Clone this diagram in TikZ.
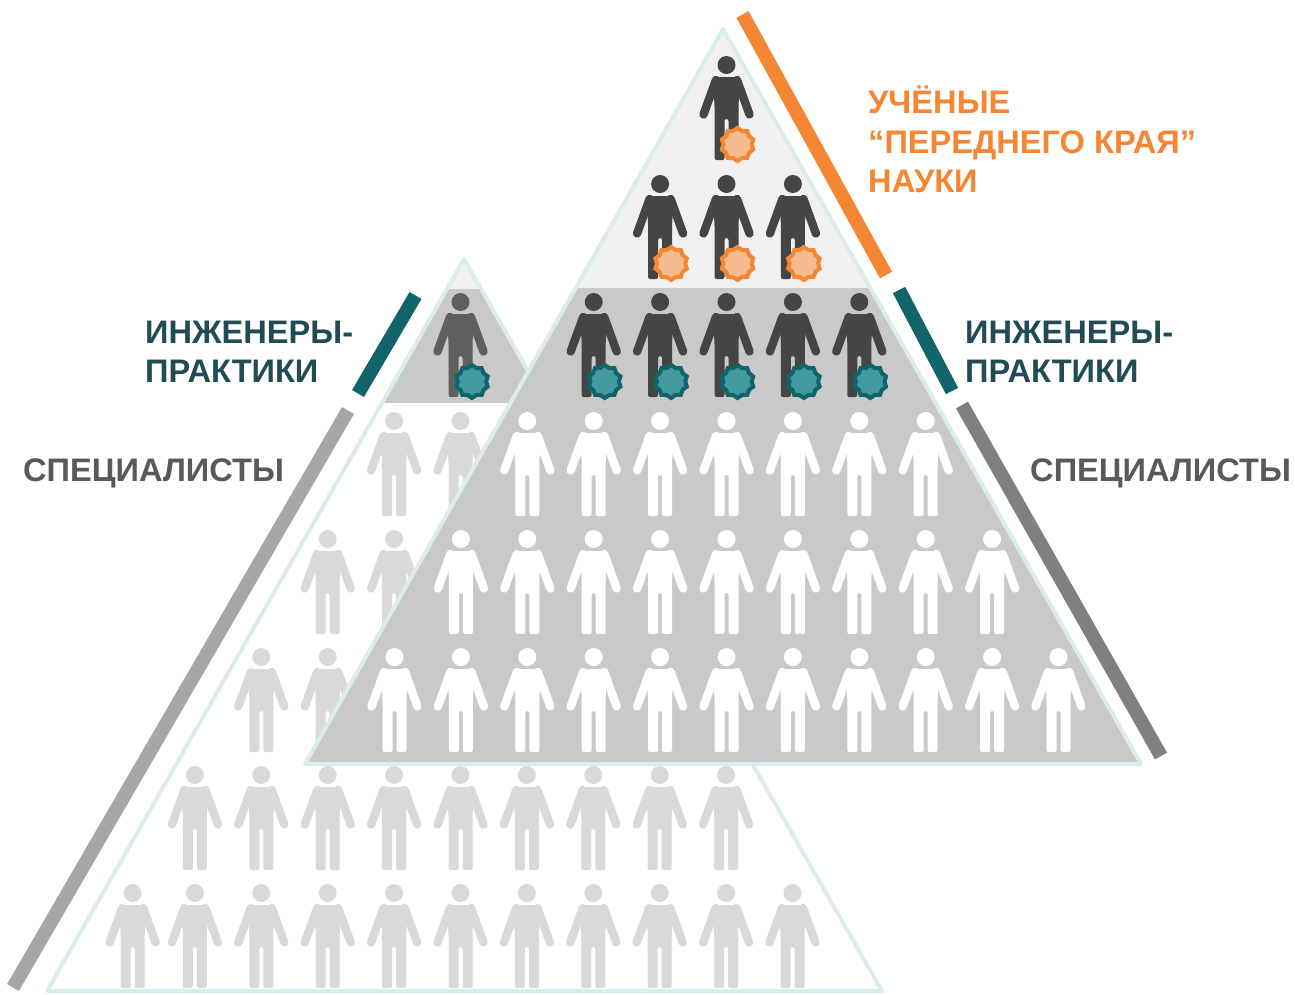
\documentclass[tikz,border=0pt]{standalone}
\usepackage{fontspec}
\setmainfont{Liberation Sans}
\usetikzlibrary{shapes.geometric}
\definecolor{figdark}{HTML}{454545}
\definecolor{figmid}{HTML}{5F5F5F}
\definecolor{figlight}{HTML}{D9D9D9}
\definecolor{tierlight}{HTML}{F0F0F0}
\definecolor{tiergray}{HTML}{C9C9C9}
\definecolor{rim}{HTML}{D9EDEE}
\definecolor{orangeline}{HTML}{F58634}
\definecolor{orangefill}{HTML}{F6BC8F}
\definecolor{tealline}{HTML}{11646A}
\definecolor{tealfill}{HTML}{439A9F}
\definecolor{tealtext}{HTML}{214C55}
\definecolor{graytext}{HTML}{595959}
\tikzset{
  pics/person/.style={code={
    \fill[#1] (0,0) circle[radius=9];
    \fill[#1,rounded corners=2] (-14,12) -- (14,12) -- (12,40) -- (12,95) -- (2,95) -- (2,54) -- (-2,54) -- (-2,95) -- (-12,95) -- (-12,40) -- cycle;
    \draw[#1,line width=8.4,line cap=round] (-10.5,15) -- (-23,49.5);
    \draw[#1,line width=8.4,line cap=round] (10.5,15) -- (23,49.5);
  }},
  badgeorange/.style={star,star points=10,star point ratio=1.16,minimum size=33,inner sep=0,line width=4,draw=orangeline,fill=orangefill},
  badgeteal/.style={star,star points=10,star point ratio=1.16,minimum size=33,inner sep=0,line width=4,draw=tealline,fill=tealfill},
  edgebar/.style={line width=13.8},
  caption/.style={anchor=west,align=left,inner sep=0,font=\bfseries\fontsize{32.6}{39.3}\selectfont},
}
\begin{document}
\begin{tikzpicture}[x=1pt,y=-1pt]
\useasboundingbox (0,0) rectangle (1295,994);
\coordinate (backtop) at (464,259);
\coordinate (backleft) at (47,991);
\coordinate (backright) at (882,991);
\coordinate (fronttop) at (723,29);
\coordinate (frontleft) at (305,764);
\coordinate (frontright) at (1141,764);
% back pyramid
\begin{scope}
\clip (backtop) -- (backleft) -- (backright) -- cycle;
\fill[tierlight] (0,250) rectangle (1295,289);
\fill[tiergray] (0,289) rectangle (1295,403);
\end{scope}
\draw[rim,line width=4,line join=round] (backtop) -- (backleft) -- (backright) -- cycle;
\pic at (460.5,302) {person=figmid};
\node[badgeteal] (backbadge) at (472,381.5) {};
\foreach \y/\m/\k in {421/-1/1,539/-2/2,657/-3/3,775/-4/4,893/-4/5}
  \foreach \n in {\m,...,\k}
    \pic at ({460.5+\n*66.4},\y) {person=figlight};
\pic at (132.7,893) {person=figlight};
% front pyramid
\begin{scope}
\clip (fronttop) -- (frontleft) -- (frontright) -- cycle;
\fill[tierlight] (0,0) rectangle (1295,288);
\fill[tiergray] (0,288) rectangle (1295,770);
\end{scope}
\draw[rim,line width=4,line join=round] (fronttop) -- (frontleft) -- (frontright) -- cycle;
\foreach \y/\m in {65/0,184/1}
  \foreach \n in {-\m,...,\m} {
    \pic at ({726.5+\n*66.4},\y) {person=figdark};
    \node[badgeorange] (orange\n) at ({737.5+\n*66.4},\y+79.5) {};
  }
\foreach \n in {-2,...,2} {
  \pic at ({726.5+\n*66.4},302) {person=figdark};
  \node[badgeteal] (teal\n) at ({737.5+\n*66.4},381.5) {};
}
\foreach \y/\m in {421/3,539/4,657/5}
  \foreach \n in {-\m,...,\m}
    \pic at ({726.5+\n*66.4},\y) {person=white};
% edge bars
\draw[edgebar,orangeline] (742.5,14.5) -- (886,275);
\draw[edgebar,tealline] (899,290) -- (952,391);
\draw[edgebar,color=black!50] (962,405) -- (1161,756);
\draw[edgebar,tealline] (415.5,295.5) -- (358,393.5);
\draw[edgebar,color=black!35] (348,410.5) -- (13,987.5);
% captions
\node[caption,text=orangeline] (topcaption) at (868,139.5) {УЧЁНЫЕ\\“ПЕРЕДНЕГО КРАЯ”\\НАУКИ};
\node[caption,text=tealtext] (rightpractice) at (965,351.5) {ИНЖЕНЕРЫ-\\ПРАКТИКИ};
\node[caption,text=tealtext] (leftpractice) at (145,351.5) {ИНЖЕНЕРЫ-\\ПРАКТИКИ};
\node[caption,text=graytext] (rightspec) at (1030,473) {СПЕЦИАЛИСТЫ};
\node[caption,text=graytext] (leftspec) at (23,473) {СПЕЦИАЛИСТЫ};
\end{tikzpicture}
\end{document}
